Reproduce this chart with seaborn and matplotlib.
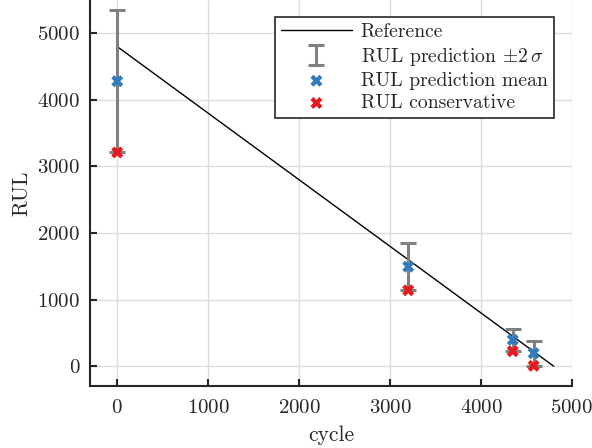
import matplotlib
matplotlib.use('Agg')
import matplotlib.pyplot as plt
import seaborn as sns
import pandas as pd

# reference RUL line
ref_cycle = [0, 4800]
ref_rul = [4800, 0]

# predictions
cycle = [0, 3200, 4350, 4580]
rul_mean = [4280, 1495, 395, 195]
two_sigma = [1070, 355, 170, 190]
rul_cons = [3210, 1140, 225, 5]

sns.set_style('whitegrid')
plt.rcParams['font.family'] = ['cmr10']
plt.rcParams['mathtext.fontset'] = 'cm'
plt.rcParams['axes.formatter.use_mathtext'] = True

df = pd.DataFrame({'cycle': cycle, 'mean': rul_mean, 'cons': rul_cons})

fig = plt.figure(figsize=(5.92, 4.48), dpi=100)
ax = fig.add_axes([0.152, 0.138, 0.814, 0.862])

sns.lineplot(x=ref_cycle, y=ref_rul, color='black', lw=1, ax=ax, label='Reference')
ax.errorbar(cycle, rul_mean, yerr=two_sigma, fmt='none', ecolor='#808080',
            elinewidth=2.2, capsize=5.5, capthick=2.2, zorder=3,
            label=r'RUL prediction $\pm 2\,\sigma$')
sns.scatterplot(data=df, x='cycle', y='mean', marker='X', s=75, color='#2f7bbd',
                edgecolor='none', ax=ax, zorder=4, label='RUL prediction mean')
sns.scatterplot(data=df, x='cycle', y='cons', marker='X', s=75, color='#e5191e',
                edgecolor='none', ax=ax, zorder=4, label='RUL conservative')

ax.set_xlim(-300, 5000)
ax.set_ylim(-300, 5500)
ax.set_xticks([0, 1000, 2000, 3000, 4000, 5000])
ax.set_yticks([0, 1000, 2000, 3000, 4000, 5000])
ax.set_xlabel('cycle', fontsize=15.5, labelpad=6)
ax.set_ylabel('RUL', fontsize=15.5, labelpad=4)

ax.grid(True, color='#dcdcdc', lw=1)
for s in ['top', 'right']:
    ax.spines[s].set_visible(False)
for s in ['left', 'bottom']:
    ax.spines[s].set_color('#262626')
    ax.spines[s].set_linewidth(1.5)
ax.tick_params(bottom=True, left=True, direction='in', length=5, width=1.5,
               color='#262626', labelsize=15)
ax.tick_params(axis='x', pad=9)
ax.tick_params(axis='y', pad=7)

handles, labels = ax.get_legend_handles_labels()
order = [labels.index(l) for l in ['Reference', r'RUL prediction $\pm 2\,\sigma$',
                                   'RUL prediction mean', 'RUL conservative']]
leg = ax.legend([handles[i] for i in order], [labels[i] for i in order],
                loc='upper right', bbox_to_anchor=(0.962, 0.955), borderaxespad=0,
                fancybox=False, edgecolor='#262626', framealpha=1, fontsize=14.2,
                borderpad=0.3, labelspacing=0.22, handlelength=3.6, handletextpad=0.45)
leg.get_frame().set_linewidth(1.2)

fig.savefig('out.png', dpi=100)
